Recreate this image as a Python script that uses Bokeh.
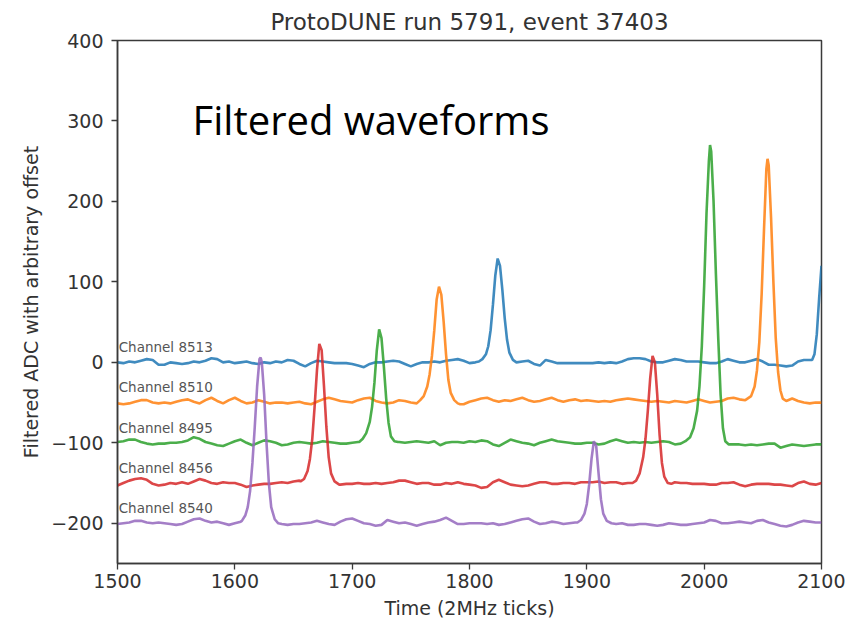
import numpy as np
from bokeh.plotting import figure
from bokeh.models import FixedTicker, Label, Range1d
from bokeh.embed import file_html
from bokeh.resources import INLINE

# ---------------- data ----------------
TITLE = "ProtoDUNE run 5791, event 37403"
channels = ["Channel 8513", "Channel 8510", "Channel 8495", "Channel 8456", "Channel 8540"]
offsets = [0, -50, -100, -150, -200]
colors = ["#1f77b4", "#ff7f0e", "#2ca02c", "#d62728", "#9467bd"]

# baseline grid: 1500..2100 every 5 ticks (121 samples), deviation from the offset
grid_t = list(range(1500, 2101, 5))

dev_8513 = [0, -1, 1, 0, 2, 4, 3, -3, -3, 0, -1, -2, -1, 1, 0, 2, 5, 4, 0, 1,
            -1, 0, 1, -1, -2, 0, -1, 1, 0, 3, 2, -2, -5, -1, 2, 1, 0, -1, -1, -1,
            -2, -4, -6, -2, 0, 0, 1, 2, 1, -2, -5, -2, 0, 0, 1, 0, 2, 3, 4, 2,
            -1, 0, 0, 0, 0, 0, 0, 0, 0, 1, 2, -2, -4, 3, 1, -1, -1, -1, -1, -1,
            -1, -1, 0, -1, 0, -1, 1, 4, 5, 5, 4, 1, 0, 0, 2, 4, 3, 1, 1, 1,
            0, -1, -1, 1, 4, 2, 0, 0, 2, 4, 1, -3, -3, -4, -5, -4, 1, 3, 3, 3,
            3]
dev_8510 = [-1, -2, -1, 1, 3, 3, 0, -1, 0, -1, 1, 3, 4, 1, -1, 3, 6, 2, -1, 3,
            6, 2, -1, 0, 3, 1, -1, 0, 0, -1, 0, 1, -1, -2, 1, 4, 6, 4, 2, 1,
            0, 3, 5, 6, 2, 0, -1, 0, 3, 2, 0, -1, 0, 0, 0, 0, 0, 0, 0, -2,
            1, 3, 5, 6, 3, 1, 3, 2, 4, 6, 3, 1, 2, 4, 6, 3, 1, 3, 4, 2,
            3, 2, 1, 2, 1, 3, 4, 5, 4, 3, 2, 1, 2, 1, 0, 2, 1, 0, 2, 4,
            2, 0, 1, 2, 5, 6, 4, 3, 0, 0, 0, 0, 0, 0, 0, 5, 2, 0, -1, 0,
            0]
dev_8495 = [1, 2, 4, 4, 1, -1, -2, -1, -1, 0, 0, 1, 3, 7, 5, 1, -1, -3, -4, -1,
            2, 4, 0, -3, 0, 3, 2, 0, -3, -2, 0, 1, 0, -1, 0, 2, 1, 0, -1, -1,
            0, 1, 0, 0, 0, 0, 0, 0, 1, 0, 1, 2, 1, 0, 2, -3, 0, 1, 1, 0,
            2, 1, 3, 2, -2, -4, 0, 4, 2, 0, -1, -3, 0, 2, 4, 2, 1, 0, -1, -1,
            0, 0, -2, -1, 2, 4, 2, 0, 1, 0, 1, 0, 1, 2, 1, -2, -1, 0, 0, 0,
            0, 0, 0, 0, -2, -2, -2, -3, -2, -3, -2, -1, -1, -6, -4, -2, -3, -4, -3, -2,
            -2]
dev_8456 = [-3, 0, 3, 5, 6, 4, -1, -3, -2, 0, -1, 1, -1, 2, 5, 3, 0, -1, 1, 0,
            0, -2, -5, -3, -2, -1, -1, 0, 1, 0, 2, 3, 0, 0, 0, 0, 0, 0, -2, -1,
            -1, 0, -1, -1, 0, -1, 0, 1, 3, 3, 1, -1, 0, 0, -2, -2, 0, -1, 1, -1,
            -2, -3, -6, -5, 1, 4, 1, -2, -3, -4, -3, -1, 1, 1, -1, -1, 0, 0, -1, 1,
            1, 1, 2, 0, 1, 1, -1, 0, 0, 0, 0, 0, 0, 0, 0, 1, 0, 0, -1, -1,
            -1, -2, -2, 0, 0, 1, -2, -4, -2, -1, -1, -1, -2, -2, -3, -4, 0, 2, -1, -2,
            0]
dev_8540 = [-1, 0, 1, 3, 3, 1, 0, 1, 0, -1, -2, -1, 2, 5, 6, 3, 1, 2, 0, -2,
            0, 2, 0, 0, 0, 0, 0, 0, -1, -2, -1, -1, 0, 1, 3, 1, -1, -2, 2, 5,
            6, 3, 0, -1, -3, -2, 4, 2, 0, 1, -1, -3, -1, 1, 2, 4, 7, 3, -1, -1,
            0, 0, 0, -1, 0, -2, -1, 1, 3, 5, 6, 2, -1, 0, 2, 1, -1, 0, 1, 0,
            0, 0, 0, 0, 0, -1, 0, -2, -2, -1, -1, -2, -3, -2, 0, -1, -2, -2, -1, 0,
            1, 4, 3, 0, 0, 1, 2, 1, 0, 3, 4, 1, -1, -3, -4, -2, 1, 3, 2, 1,
            1]
baselines = [dev_8513, dev_8510, dev_8495, dev_8456, dev_8540]

# pulses (absolute values on the offset axis), densely read around each peak
pulse_t_8513 = [[1808, 1811, 1814, 1816, 1818, 1820, 1822, 1824, 1826, 1828, 1830, 1832, 1834, 1837, 1840],
                [2092, 2094, 2096, 2098, 2100]]
pulse_v_8513 = [[1, 4, 10, 20, 40, 72, 108, 129, 120, 90, 55, 28, 12, 3, 0],
                [3, 10, 35, 80, 120]]
pulse_t_8510 = [[1758, 1761, 1764, 1766, 1768, 1770, 1772, 1774, 1776, 1778, 1780, 1782, 1784, 1787, 1790, 1792],
                [2036, 2040, 2043, 2045, 2047, 2049, 2051, 2053, 2054, 2055, 2057, 2059, 2061, 2063, 2065, 2067, 2070]]
pulse_v_8510 = [[-47, -42, -30, -15, 8, 40, 78, 94, 84, 50, 10, -22, -38, -47, -51, -52],
                [-46, -42, -30, -10, 25, 85, 165, 240, 253, 245, 180, 100, 30, -12, -35, -45, -48]]
pulse_t_8495 = [[1706, 1709, 1712, 1715, 1717, 1719, 1721, 1723, 1725, 1727, 1729, 1731, 1733, 1736, 1739],
                [1984, 1988, 1991, 1994, 1996, 1998, 2000, 2002, 2004, 2005, 2006, 2008, 2010, 2012, 2014, 2016, 2018, 2021]]
pulse_v_8495 = [[-99, -95, -88, -74, -55, -25, 15, 41, 30, -5, -45, -75, -92, -98, -99],
                [-98, -93, -82, -60, -30, 20, 95, 185, 250, 270, 262, 200, 110, 30, -40, -82, -98, -102]]
pulse_t_8456 = [[1656, 1659, 1662, 1664, 1666, 1668, 1670, 1672, 1674, 1676, 1678, 1680, 1682, 1685, 1689],
                [1939, 1942, 1945, 1948, 1950, 1952, 1954, 1956, 1958, 1960, 1962, 1964, 1966, 1969, 1972]]
pulse_v_8456 = [[-148, -145, -135, -120, -95, -55, -10, 23, 15, -30, -80, -118, -138, -148, -152],
                [-150, -147, -138, -118, -95, -60, -20, 8, 0, -40, -90, -125, -142, -150, -151]]
pulse_t_8540 = [[1606, 1609, 1611, 1613, 1615, 1617, 1619, 1621, 1622, 1623, 1625, 1627, 1629, 1631, 1634, 1637, 1640],
                [1892, 1895, 1898, 1900, 1902, 1904, 1906, 1908, 1910, 1912, 1914, 1917, 1921]]
pulse_v_8540 = [[-197, -190, -180, -160, -125, -80, -30, 4, 6, 0, -40, -100, -150, -180, -195, -200, -201],
                [-199, -196, -188, -176, -152, -120, -98, -104, -138, -170, -188, -197, -200]]
pulses_t = [pulse_t_8513, pulse_t_8510, pulse_t_8495, pulse_t_8456, pulse_t_8540]
pulses_v = [pulse_v_8513, pulse_v_8510, pulse_v_8495, pulse_v_8456, pulse_v_8540]

x_ticks = [1500, 1600, 1700, 1800, 1900, 2000, 2100]
y_ticks = [-200, -100, 0, 100, 200, 300, 400]

# ---------------- figure ----------------
p = figure(width=845, height=624, output_backend="svg", toolbar_location=None,
           x_range=Range1d(1500, 2100), y_range=Range1d(-250, 400),
           min_border_left=117, min_border_right=24, min_border_top=40, min_border_bottom=61)

FONT = "DejaVu Sans"
TXT = "#333333"

p.title.text = TITLE
p.title.align = "center"
p.title.text_font = FONT
p.title.text_font_size = "23px"
p.title.text_font_style = "normal"
p.title.text_color = TXT
p.title.standoff = 11
p.title.offset = 0

p.xgrid.visible = False
p.ygrid.visible = False
p.outline_line_color = "#3a3a3a"
p.outline_line_width = 1.5
p.background_fill_color = "white"
p.border_fill_color = "white"

for ax in (p.xaxis[0], p.yaxis[0]):
    ax.axis_line_color = "#3a3a3a"
    ax.axis_line_width = 1.5
    ax.major_tick_line_color = "#3a3a3a"
    ax.major_tick_line_width = 1.3
    ax.major_tick_in = 0
    ax.major_tick_out = 6
    ax.minor_tick_line_color = None
    ax.major_label_text_font = FONT
    ax.major_label_text_font_size = "19px"
    ax.major_label_text_color = TXT
    ax.major_label_standoff = 4
    ax.axis_label_text_font = FONT
    ax.axis_label_text_font_size = "19px"
    ax.axis_label_text_font_style = "normal"
    ax.axis_label_text_color = TXT

p.xaxis[0].ticker = FixedTicker(ticks=x_ticks)
p.yaxis[0].ticker = FixedTicker(ticks=y_ticks)
p.yaxis[0].major_label_standoff = 8
p.yaxis[0].major_label_overrides = {t: (("\u2212" + str(-t)) if t < 0 else str(t)) for t in y_ticks}
p.xaxis[0].axis_label = "Time (2MHz ticks)"
p.yaxis[0].axis_label = "Filtered ADC with arbitrary offset"
p.xaxis[0].axis_label_standoff = 6
p.yaxis[0].axis_label_standoff = 6

for name, off, col, dev, pts, pvs in zip(channels, offsets, colors, baselines, pulses_t, pulses_v):
    ts, vs = [], []
    windows = [(min(t), max(t)) for t in pts]
    for t, d in zip(grid_t, dev):
        if any(lo <= t <= hi for lo, hi in windows):
            continue
        ts.append(t)
        vs.append(off + d)
    for t_list, v_list in zip(pts, pvs):
        ts.extend(t_list)
        vs.extend(v_list)
    order = np.argsort(ts, kind="stable")
    ts = np.array(ts)[order]
    vs = np.array(vs)[order]
    p.line(ts, vs, line_color=col, line_width=2.6, line_alpha=0.85)
    p.add_layout(Label(x=1501, y=off + 9, text=name, text_font=FONT,
                       text_font_size="13.5px", text_color="#555555",
                       text_baseline="bottom", text_align="left"))

p.add_layout(Label(x=1564, y=302, text="Filtered waveforms", text_font="Open Sans",
                   text_font_size="40px", text_color="black",
                   text_baseline="alphabetic", text_align="left"))

open("out.html", "w").write(file_html(p, INLINE))
